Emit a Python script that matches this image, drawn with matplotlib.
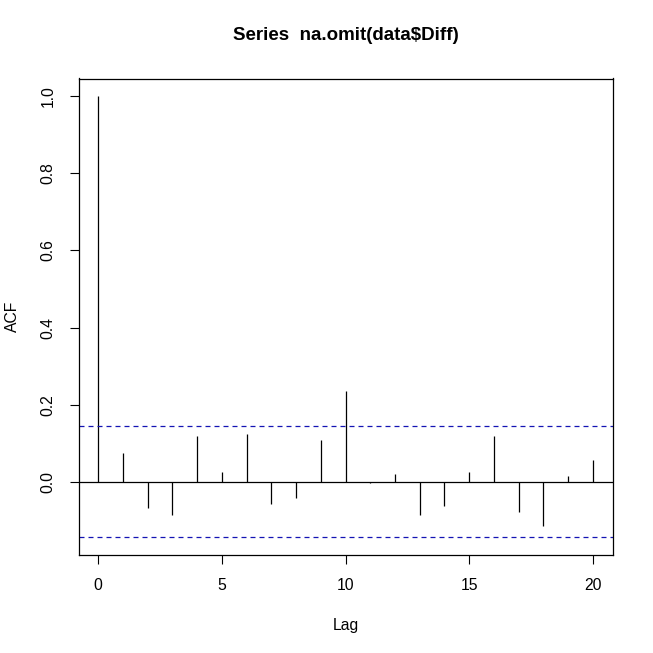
import matplotlib
matplotlib.use("Agg")
import matplotlib.pyplot as plt
import numpy as np

plt.rcParams['font.family'] = ['Liberation Sans', 'DejaVu Sans']

lags = list(range(0, 21))
acf_values = [1.0, 0.075, -0.067, -0.086, 0.119, 0.026, 0.125, -0.057, -0.042, 0.108,
              0.236, -0.004, 0.020, -0.086, -0.062, 0.026, 0.119, -0.078, -0.114, 0.015, 0.056]
conf_limit = 0.144
x_ticks = [0, 5, 10, 15, 20]
y_ticks = [0.0, 0.2, 0.4, 0.6, 0.8, 1.0]
y_tick_labels = ["0.0", "0.2", "0.4", "0.6", "0.8", "1.0"]
title = "Series  na.omit(data$Diff)"

fig = plt.figure(figsize=(6.53, 6.53), dpi=100)
ax = fig.add_axes([78.5 / 653, (653 - 555) / 653, (612.5 - 78.5) / 653, (555 - 78.5) / 653])

ax.vlines(lags, 0, acf_values, colors='black', linewidth=0.9)
ax.axhline(0, color='black', linewidth=0.9)
for c in (conf_limit, -conf_limit):
    ax.axhline(c, color='#1414b4', linewidth=0.9, linestyle=(0, (4, 3.2)))

lo = min(-conf_limit, min(acf_values))
hi = max(conf_limit, max(acf_values))
pad_y = 0.04 * (hi - lo)
ax.set_ylim(lo - pad_y, hi + pad_y)
ax.set_xlim(-0.8, 20.8)

ax.set_xticks(x_ticks)
ax.set_xticklabels([str(t) for t in x_ticks])
ax.set_yticks(y_ticks)
ax.set_yticklabels(y_tick_labels, rotation=90, va='center')
ax.tick_params(axis='both', direction='out', length=6.5, width=0.8, labelsize=11.3, pad=10, colors='black')

for s in ax.spines.values():
    s.set_linewidth(0.9)

ax.set_xlabel("Lag", fontsize=11.3, labelpad=18)
ax.set_ylabel("ACF", fontsize=11.3, labelpad=15)
ax.text(0.5, 1 + 43 / 476.5, title, transform=ax.transAxes,
        ha='center', va='center', fontsize=13.5, fontweight='bold')

fig.savefig("out.png", dpi=100)
